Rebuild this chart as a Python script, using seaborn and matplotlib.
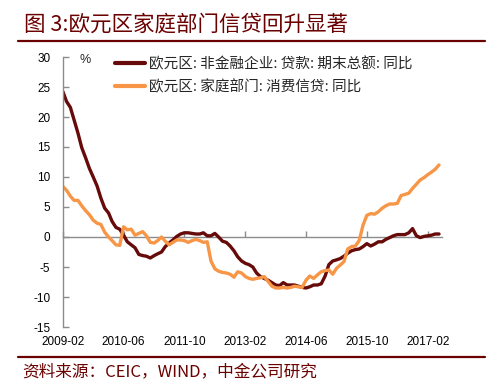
import numpy as np
import pandas as pd
import matplotlib
matplotlib.use('Agg')
import matplotlib.pyplot as plt
import matplotlib.dates as mdates
from matplotlib.lines import Line2D
import seaborn as sns

# ---------------- data ----------------
start_month = '2009-02'
corp_loans = [
    24.2, 22.6, 21.6, 19.5, 17.3, 14.9, 13.2, 11.4, 10.0, 8.5,
    6.5, 4.8, 4.0, 2.6, 1.6, 1.3, 0.3, -0.8, -1.3, -1.8,
    -2.9, -3.1, -3.2, -3.5, -3.1, -2.8, -2.5, -1.6, -1.0, -0.5,
    0.1, 0.5, 0.7, 0.7, 0.6, 0.5, 0.5, 0.7, 0.2, 0.2,
    0.6, 0.0, -0.7, -0.9, -1.5, -2.3, -3.3, -4.0, -4.4, -4.6,
    -5.0, -6.0, -6.6, -6.9, -7.2, -7.6, -8.0, -8.1, -7.6, -8.0,
    -8.0, -8.0, -8.2, -8.4, -8.5, -8.3, -8.0, -8.0, -7.8, -6.5,
    -4.6, -4.0, -3.8, -3.6, -3.2, -2.7, -2.3, -2.1, -2.0, -1.6,
    -1.1, -1.5, -1.2, -0.8, -0.8, -0.4, -0.1, 0.2, 0.4, 0.4,
    0.4, 0.7, 1.4, 0.2, -0.1, 0.1, 0.2, 0.3, 0.5, 0.5,
]
household_credit = [
    8.4, 7.8, 6.8, 6.1, 6.1, 5.2, 4.4, 3.7, 2.8, 2.3,
    2.1, 0.8, 0.0, -0.6, -1.3, -1.4, 1.7, 1.2, 1.3, 0.3,
    0.6, 0.9, 0.2, -0.9, -1.0, -0.6, 0.0, -0.7, -1.3, -0.9,
    -0.5, -0.5, -0.6, -0.9, -0.6, -0.4, -0.6, -0.9, -0.8, -4.0,
    -5.3, -5.7, -5.9, -6.0, -6.2, -6.7, -5.8, -6.0, -6.6, -6.9,
    -7.05, -6.9, -6.8, -6.6, -7.4, -8.2, -8.5, -8.5, -8.4, -8.5,
    -8.4, -8.2, -8.3, -8.4, -7.2, -6.5, -6.9, -6.3, -5.8, -5.6,
    -5.5, -6.2, -5.2, -4.7, -4.1, -2.0, -1.6, -1.5, -0.6, 2.0,
    3.6, 3.9, 3.8, 4.2, 4.8, 5.2, 5.5, 5.5, 5.6, 6.9,
    7.1, 7.3, 8.1, 8.8, 9.5, 9.9, 10.4, 10.8, 11.3, 12.0,
]
series_names = ['欧元区: 非金融企业: 贷款: 期末总额: 同比',
                '欧元区: 家庭部门: 消费信贷: 同比']
x_tick_labels = ['2009-02', '2010-06', '2011-10', '2013-02',
                 '2014-06', '2015-10', '2017-02']
y_ticks = [-15, -10, -5, 0, 5, 10, 15, 20, 25, 30]

title_text = '图 3:欧元区家庭部门信贷回升显著'
source_text = '资料来源：CEIC，WIND，中金公司研究'

# ---------------- style ----------------
sns.set_style('white')
plt.rcParams['font.family'] = ['Liberation Sans', 'Noto Sans CJK SC', 'DejaVu Sans']
plt.rcParams['axes.unicode_minus'] = False

dark_red = '#6B0000'
line_dark = '#660A0A'
line_orange = '#F79646'
gray = '#8C8C8C'

dates = pd.date_range(start_month, periods=len(corp_loans), freq='MS')
df = pd.DataFrame({
    'date': list(dates) + list(dates),
    'value': corp_loans + household_credit,
    'series': [series_names[0]] * len(dates) + [series_names[1]] * len(dates),
})

fig = plt.figure(figsize=(5.01, 3.89), dpi=100)
ax = fig.add_axes([63 / 501, 1 - 327 / 389, (442 - 63) / 501, (327 - 57) / 389])

sns.lineplot(data=df, x='date', y='value', hue='series',
             palette={series_names[0]: line_dark, series_names[1]: line_orange},
             linewidth=2.4, ax=ax)

ax.set_xlim(pd.Timestamp('2009-02-01'), pd.Timestamp('2017-05-25'))
ax.set_ylim(-15, 30)
ax.set_xlabel('')
ax.set_ylabel('')

tick_dates = [pd.Timestamp(t + '-01') for t in x_tick_labels]
ax.set_xticks(tick_dates)
ax.set_xticklabels(x_tick_labels)
ax.set_yticks(y_ticks)
ax.set_yticklabels([str(v) for v in y_ticks])

for s in ['top', 'right', 'bottom']:
    ax.spines[s].set_visible(False)
ax.spines['left'].set_color(gray)
ax.spines['left'].set_linewidth(1.0)

ax.tick_params(axis='x', bottom=True, length=0, pad=6.5, labelsize=8.5, colors='black')
ax.tick_params(axis='y', left=True, direction='in', length=4, width=1,
               color=gray, pad=9, labelsize=8.5, labelcolor='black')

# zero axis line with upward ticks
sec = ax.secondary_xaxis(1 / 3)
sec.set_xticks(mdates.date2num(tick_dates))
sec.tick_params(axis='x', direction='out', length=4, width=1, color=gray,
                labeltop=False, labelbottom=False, top=True, bottom=False)
for s in sec.spines.values():
    s.set_color(gray)
    s.set_linewidth(1.0)

# legend
handles, labels = ax.get_legend_handles_labels()
leg = ax.legend(handles, labels, loc='upper left',
                bbox_to_anchor=(115 / 501, 1 - 57 / 389), bbox_transform=fig.transFigure,
                frameon=False, handlelength=2.05, handletextpad=0.25,
                labelspacing=0.58, borderpad=0, borderaxespad=0,
                prop={'family': 'Noto Sans CJK SC', 'size': 10.5})
for l in leg.get_lines():
    l.set_linewidth(3)

fig.text(85 / 501, 1 - 60 / 389, '%', ha='center', va='center', fontsize=9)

# title, rules, source
fig.text(24 / 501, 1 - 25 / 389, title_text, fontsize=15.5, color=dark_red,
         family=['Noto Sans CJK SC'], va='center', ha='left', fontweight='light')
fig.add_artist(Line2D([18 / 501, 485 / 501], [1 - 41 / 389] * 2,
                      transform=fig.transFigure, color=dark_red, lw=1.6))
fig.add_artist(Line2D([18 / 501, 485 / 501], [1 - 357 / 389] * 2,
                      transform=fig.transFigure, color=dark_red, lw=1.6))
fig.text(22 / 501, 1 - 372 / 389, source_text, fontsize=12, color=dark_red,
         family=['Noto Sans CJK SC'], va='center', ha='left', fontweight='light')

fig.savefig('out.png', dpi=100)
